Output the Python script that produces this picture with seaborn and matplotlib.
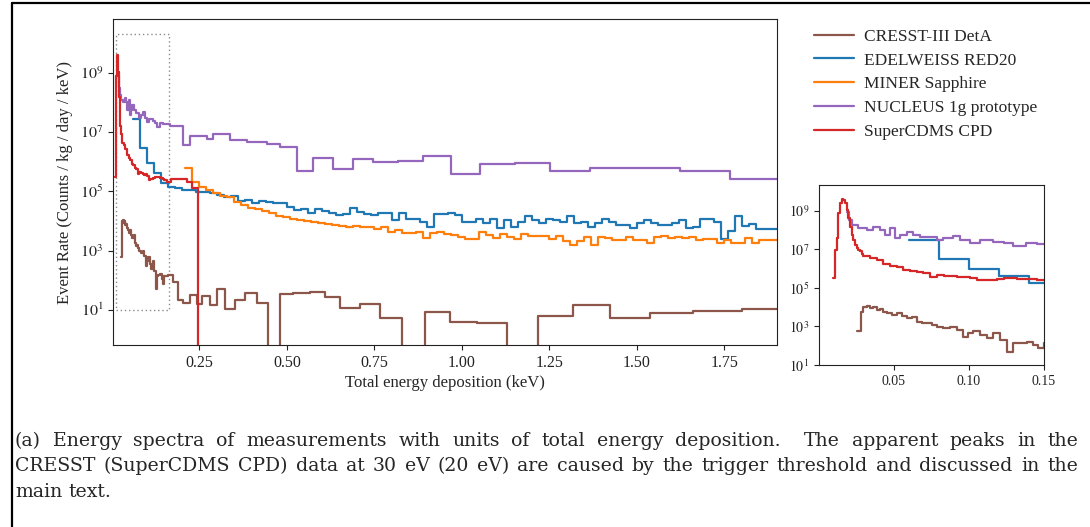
import re
import numpy as np
import pandas as pd
import matplotlib
matplotlib.use("Agg")
import matplotlib.pyplot as plt
import seaborn as sns
from matplotlib.patches import Rectangle
from matplotlib.lines import Line2D
from matplotlib.ticker import FixedLocator, NullLocator, FuncFormatter

# ---------------- data (log10 of event rate) ----------------
labels = ["CRESST-III DetA", "EDELWEISS RED20", "MINER Sapphire",
          "NUCLEUS 1g prototype", "SuperCDMS CPD"]
colors = ["#8c564b", "#1f77b4", "#ff7f0e", "#9467bd", "#d62728"]
Z = None  # empty bin (zero rate)

cresst_edges = [0.0256, 0.0278, 0.0296, 0.0318, 0.034, 0.0362, 0.0384, 0.0407, 0.0429,
                0.0451, 0.0484, 0.0518, 0.0551, 0.0584, 0.0618, 0.0651, 0.0684, 0.0718,
                0.0751, 0.0784, 0.0829, 0.0873, 0.0918, 0.0962, 0.0996, 0.1029, 0.1073,
                0.1118, 0.1162, 0.1207, 0.1251, 0.1296, 0.1329, 0.1384, 0.1429, 0.1462,
                0.150, 0.161, 0.175, 0.19, 0.204, 0.223, 0.242, 0.256, 0.280, 0.299,
                0.323, 0.351, 0.380, 0.413, 0.447, 0.480, 0.518, 0.566, 0.609, 0.651,
                0.709, 0.766, 0.83, 0.894, 0.966, 1.042, 1.13, 1.218, 1.318, 1.423,
                1.537, 1.661, 1.799, 1.92]
cresst_log = [2.78, 3.77, 4.0, 4.03, 3.94, 4.0, 3.85, 3.89, 3.77, 3.68, 3.60, 3.68, 3.54,
              3.42, 3.51, 3.25, 3.16, 3.20, 3.08, 2.99, 2.91, 2.99, 2.82, 2.47, 2.65, 2.78,
              2.56, 2.39, 2.65, 2.30, 1.69, 2.13, 2.16, 2.21, 2.04, 1.87,
              2.14, 2.16, 1.95, 1.33, 1.24, 1.50, 1.21, 1.47, 1.15, 1.69, 1.03, 1.33,
              1.58, 1.24, Z, 1.52, 1.58, 1.61, 1.44, 1.07, 1.21, 0.71, Z, 0.92, 0.60,
              0.54, Z, 0.79, 1.16, 0.71, 0.88, 0.96, 1.03]

edel_start, edel_width = 0.06, 0.02
edel_log = [7.45, 6.48, 5.96, 5.63,
            5.27, 5.15, 5.10, 5.06, 5.03, 4.99, 4.99, 4.95, 4.88, 4.82, 4.84, 4.66, 4.71,
            4.62, 4.66, 4.64, 4.60, 4.60, 4.48, 4.37, 4.40, 4.28, 4.39, 4.35, 4.28, 4.20,
            4.25, 4.45, 4.30, 4.22, 4.20,
            4.28, 4.28, 4.03, 4.26, 4.05, 4.08, 3.97, 3.79, 4.24, 4.24, 4.26, 4.20, 3.97,
            3.97, 4.08, 3.92, 4.08, 3.76, 4.03, 3.81, 3.97, 4.15, 4.03, 3.92, 4.08, 4.03,
            3.97, 4.15, 3.92, 3.97, 3.81, 3.94, 4.08, 3.97, 3.86, 3.86, 3.76, 3.92, 4.03,
            3.92, 3.86, 3.86, 3.92, 4.03, 3.76, 3.81, 4.08, 4.08, 3.97, 3.40, 3.65, 4.17,
            3.83, 3.90, 3.72, 3.72, 3.72]

miner_start, miner_width = 0.21, 0.02
miner_log = [5.78, 5.33, 5.16, 5.05, 4.93, 4.85, 4.80, 4.65, 4.55, 4.45, 4.40, 4.33, 4.28,
             4.18, 4.12, 4.06, 4.03, 4.00, 3.96, 3.92, 3.90, 3.86, 3.82, 3.80, 3.82, 3.78,
             3.80, 3.72,
             3.79, 3.64, 3.70, 3.59, 3.59, 3.64, 3.42, 3.59, 3.64, 3.55, 3.53, 3.45, 3.38,
             3.38, 3.61, 3.53, 3.42, 3.55, 3.47, 3.38, 3.55, 3.50, 3.50, 3.50, 3.38, 3.50,
             3.31, 3.20, 3.31, 3.45, 3.20, 3.45, 3.42, 3.34, 3.34, 3.45, 3.36, 3.36, 3.25,
             3.45, 3.50, 3.42, 3.45, 3.42, 3.45, 3.36, 3.38, 3.38, 3.27, 3.36, 3.27, 3.27,
             3.42, 3.25, 3.34, 3.34, 3.34]

nucleus_edges = [0.0185, 0.020, 0.0218, 0.0262, 0.0318, 0.0362, 0.0407, 0.044, 0.0473,
                 0.0507, 0.054, 0.0585, 0.0629, 0.0673, 0.0718, 0.0785, 0.0829, 0.0895,
                 0.094, 0.1007, 0.107, 0.116, 0.123, 0.1295, 0.138, 0.145, 0.151, 0.166,
                 0.185, 0.204, 0.223, 0.271, 0.290, 0.337, 0.385, 0.442, 0.480, 0.530,
                 0.575, 0.632, 0.688, 0.747, 0.818, 0.889, 0.970, 1.051, 1.151, 1.251,
                 1.366, 1.489, 1.623, 1.766, 1.90]
nucleus_log = [8.9, 8.5, 8.26, 8.09, 8.0, 8.14, 8.0, 7.74, 8.09, 7.57, 7.74, 7.91, 7.74,
               7.65, 7.65, 7.48, 7.57, 7.69, 7.48, 7.34, 7.45, 7.36, 7.31, 7.17, 7.31, 7.27,
               7.28, 7.19, 7.19, 6.55, 6.86, 6.77, 6.93, 6.72, 6.67, 6.60, 6.49, 5.67, 6.12,
               5.74, 6.08, 5.99, 6.03, 6.20, 5.58, 5.92, 5.94, 5.67, 5.78, 5.79, 5.70, 5.42]

cpd_edges = [0.0096, 0.0107, 0.0118, 0.0129, 0.0140, 0.0151, 0.0162, 0.0173, 0.0184,
             0.0196, 0.0207, 0.0218, 0.0229, 0.0240, 0.0251, 0.0262, 0.0273, 0.0285,
             0.0296, 0.0340, 0.0385, 0.0429, 0.0473, 0.0518, 0.0562, 0.0607, 0.0651,
             0.0696, 0.0740, 0.0785, 0.0830, 0.0874, 0.0920, 0.0963, 0.1007, 0.1052,
             0.1096, 0.1140, 0.1185, 0.1230, 0.1274, 0.1320, 0.1360, 0.1407, 0.1450,
             0.1500, 0.1560, 0.1700, 0.1900, 0.2130, 0.2280, 0.2450, 0.2600]
cpd_log = [5.5, 6.96, 7.58, 8.88, 9.40, 9.60, 9.55, 9.40, 9.04, 8.62, 8.17, 7.74, 7.48,
           7.22, 7.05, 6.95, 6.88, 6.75,
           6.62, 6.55, 6.42, 6.24, 6.12, 6.05, 5.93, 5.88, 5.80, 5.76, 5.58, 5.66, 5.62,
           5.60, 5.55, 5.58, 5.52, 5.38, 5.40, 5.40, 5.45, 5.48, 5.50, 5.47, 5.46, 5.44,
           5.40,
           5.39, 5.33, 5.40, 5.42, 5.33, 5.10, Z]

# zoom box drawn on main panel (data coordinates)
box_x0, box_x1 = 0.011, 0.163
box_y0, box_y1 = 1e1, 2.1e10

caption_lines = [
    "(a) Energy spectra of measurements with units of total energy deposition.  The apparent peaks in the",
    "CRESST (SuperCDMS CPD) data at 30 eV (20 eV) are caused by the trigger threshold and discussed in the",
    "main text.",
]


# ---------------- build long table of step points ----------------
def steps(name, edges, logs):
    rates = [1e-3 if v is None else 10.0 ** v for v in logs]
    rates = rates + [rates[-1]]
    return pd.DataFrame({"energy": list(edges), "rate": rates, "experiment": name})


def regular_edges(start, width, n):
    return [round(start + width * i, 4) for i in range(n + 1)]


frames = [
    steps(labels[0], cresst_edges, cresst_log),
    steps(labels[1], regular_edges(edel_start, edel_width, len(edel_log)), edel_log),
    steps(labels[2], regular_edges(miner_start, miner_width, len(miner_log)), miner_log),
    steps(labels[3], nucleus_edges, nucleus_log),
    steps(labels[4], cpd_edges, cpd_log),
]
df = pd.concat(frames, ignore_index=True)
palette = dict(zip(labels, colors))

# ---------------- style ----------------
sns.set_theme(style="ticks")
plt.rcParams["font.family"] = ["Liberation Serif", "DejaVu Serif"]
plt.rcParams["mathtext.fontset"] = "stix"
plt.rcParams["axes.linewidth"] = 0.8
plt.rcParams["axes.edgecolor"] = "#222222"
for k in ("xtick", "ytick"):
    plt.rcParams[f"{k}.major.width"] = 0.8
    plt.rcParams[f"{k}.major.size"] = 3.5
    plt.rcParams[f"{k}.color"] = "#222222"

W, H = 1090, 527
fig = plt.figure(figsize=(W / 100, H / 100), dpi=100)
fig.patch.set_facecolor("white")

ax = fig.add_axes([113 / W, 1 - 345 / H, (777 - 113) / W, (345 - 19) / H])
axin = fig.add_axes([819 / W, 1 - 365 / H, (1044 - 819) / W, (365 - 185) / H])

for a in (ax, axin):
    sns.lineplot(data=df, x="energy", y="rate", hue="experiment", hue_order=labels,
                 palette=palette, drawstyle="steps-post", estimator=None, sort=False,
                 legend=False, ax=a, linewidth=1.6)
    a.set_yscale("log")
    a.set_xlabel("")
    a.set_ylabel("")
    a.yaxis.set_minor_locator(NullLocator())
    a.yaxis.set_major_locator(FixedLocator([1e1, 1e3, 1e5, 1e7, 1e9]))
    a.yaxis.set_major_formatter(FuncFormatter(lambda v, p: r"$10^{%d}$" % round(np.log10(v))))
    a.xaxis.set_major_formatter(FuncFormatter(lambda v, p: "%.2f" % v))

ax.set_xlim(0.003, 1.9)
ax.set_ylim(10 ** -0.19, 10 ** 10.82)
ax.xaxis.set_major_locator(FixedLocator([0.25, 0.5, 0.75, 1.0, 1.25, 1.5, 1.75]))
ax.tick_params(labelsize=11.5)
ax.set_xlabel("Total energy deposition (keV)", fontsize=12, labelpad=3)
ax.set_ylabel("Event Rate (Counts / kg / day / keV)", fontsize=12, labelpad=5)

axin.set_xlim(0.0, 0.15)
axin.set_ylim(1e1, 2.1e10)
axin.xaxis.set_major_locator(FixedLocator([0.05, 0.10, 0.15]))
axin.tick_params(labelsize=10)

ax.add_patch(Rectangle((box_x0, box_y0), box_x1 - box_x0, box_y1 - box_y0, fill=False,
                       linestyle=(0, (1, 2)), edgecolor="#8a8a8a", linewidth=1.0, zorder=1))

handles = [Line2D([0], [0], color=c, lw=1.6) for c in colors]
fig.legend(handles, labels, loc="upper left", bbox_to_anchor=(798 / W, 1 - 13 / H),
           frameon=False, fontsize=12.5, handlelength=2.3, handletextpad=0.6,
           labelspacing=0.44, borderpad=0.4)

# page frame lines
fig.add_artist(Line2D([12 / W, 12 / W], [0, 1 - 3 / H], transform=fig.transFigure,
                      color="black", lw=1.6))
fig.add_artist(Line2D([12 / W, 1], [1 - 3 / H, 1 - 3 / H], transform=fig.transFigure,
                      color="black", lw=1.6))

# ---------------- justified caption ----------------
renderer = fig.canvas.get_renderer()
cap_family = ["DejaVu Serif"]
cap_size = 13.6
x_left, x_right = 15, 1078
baselines = [446, 471, 497]

for i, (line, ybase) in enumerate(zip(caption_lines, baselines)):
    matches = list(re.finditer(r"\S+", line))
    words = [m.group(0) for m in matches]
    gaps = [matches[j + 1].start() - matches[j].end() for j in range(len(matches) - 1)]
    texts = [fig.text(0, 1 - ybase / H, w, fontsize=cap_size, family=cap_family,
                      va="baseline", ha="left") for w in words]
    widths = [t.get_window_extent(renderer).width for t in texts]
    justify = i < len(caption_lines) - 1
    if justify and gaps:
        unit = (x_right - x_left - sum(widths)) / sum(gaps)
    else:
        sp = fig.text(0, 0, "a a", fontsize=cap_size, family=cap_family)
        sp2 = fig.text(0, 0, "aa", fontsize=cap_size, family=cap_family)
        unit = sp.get_window_extent(renderer).width - sp2.get_window_extent(renderer).width
        sp.remove()
        sp2.remove()
    x = x_left
    for j, t in enumerate(texts):
        t.set_x(x / W)
        x += widths[j]
        if j < len(gaps):
            x += gaps[j] * unit

fig.savefig("out.png", dpi=100, facecolor="white")
